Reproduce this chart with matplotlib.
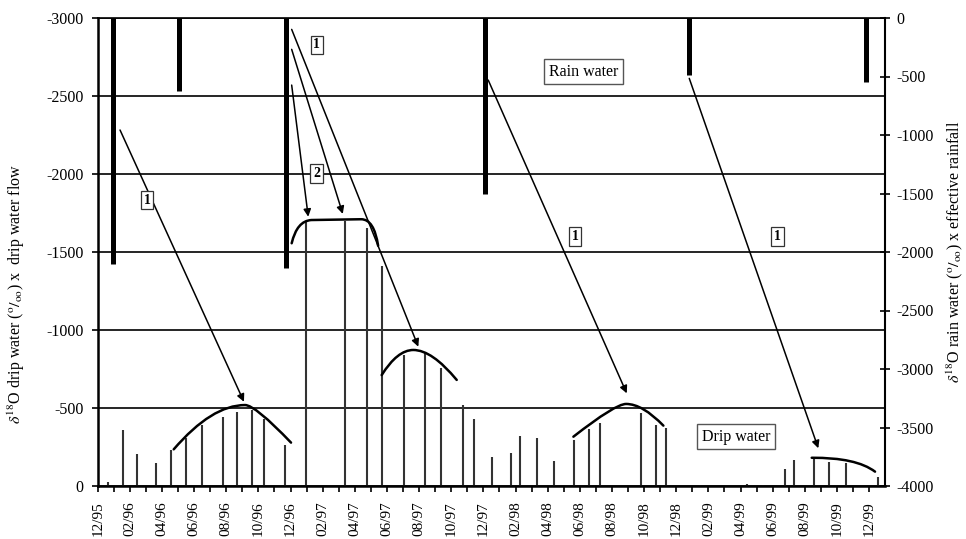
import matplotlib
matplotlib.use('Agg')
import matplotlib.pyplot as plt
from matplotlib.path import Path
from matplotlib.patches import PathPatch

plt.rcParams['font.family'] = ['Liberation Serif', 'DejaVu Serif']
plt.rcParams['mathtext.fontset'] = 'stix'
plt.rcParams['axes.unicode_minus'] = False

# ---- data (x in months after 12/95) ----
month_labels = ['12/95', '02/96', '04/96', '06/96', '08/96', '10/96', '12/96',
                '02/97', '04/97', '06/97', '08/97', '10/97', '12/97',
                '02/98', '04/98', '06/98', '08/98', '10/98', '12/98',
                '02/99', '04/99', '06/99', '08/99', '10/99', '12/99']

drip_month = [0.62, 1.56, 2.47, 3.63, 4.54, 5.47, 6.51, 7.78, 8.65, 9.58, 10.35,
              11.66, 12.96, 15.39, 16.78, 17.67, 19.06, 20.37, 21.34, 22.71, 23.43,
              24.52, 25.70, 26.28, 27.32, 28.40, 29.66, 30.57, 31.26, 33.79, 34.74,
              35.37, 37.5, 40.4, 41.4, 42.77, 43.35, 44.57, 45.53, 46.55, 48.54]
drip_value = [-25, -360, -205, -145, -230, -310, -390, -440, -475, -490, -430,
              -265, -1690, -1700, -1655, -1410, -840, -850, -755, -520, -428,
              -184, -214, -320, -305, -162, -295, -363, -406, -466, -391,
              -370, -8, -10, -8, -107, -167, -178, -156, -145, -60]

rain_month = [0.96, 5.07, 11.72, 24.1, 36.8, 47.8]
rain_value = [-2100, -625, -2140, -1500, -490, -550]

# hand-drawn envelope curves (Bezier control points, left-axis units)
curve1 = [(4.73, -235), (7.1, -519), (9.17, -519), (9.8, -519), (12.03, -278)]
curve3 = [(17.67, -711), (18.65, -872), (19.64, -872), (20.8, -872), (22.34, -680)]
curve4 = [(29.6, -316), (32.2, -526), (32.88, -526), (33.9, -526), (35.2, -387)]
curve5 = [(44.43, -181), (47.2, -183), (48.37, -92)]
curve2 = [(12.07, -1556), (12.4, -1700), (13.3, -1705), (16.4, -1710),
          (17.2, -1710), (17.45, -1540)]

arrows = [(1.39, -2282, 9.1, -540),
          (12.07, -2570, 13.1, -1726),
          (12.07, -2799, 15.25, -1744),
          (12.07, -2927, 19.95, -893),
          (24.3, -2602, 32.92, -594),
          (36.81, -2613, 44.84, -242)]

boxes = [('1', 3.07, -1833), ('1', 13.63, -2827), ('2', 13.63, -2004),
         ('1', 29.7, -1598), ('1', 42.3, -1598)]
label_boxes = [('Rain water', 30.22, -2656), ('Drip water', 39.72, -316)]

left_ticks = [-3000, -2500, -2000, -1500, -1000, -500, 0]
right_ticks = [0, -500, -1000, -1500, -2000, -2500, -3000, -3500, -4000]

# ---- figure ----
fig = plt.figure(figsize=(9.66, 5.39), dpi=100)
ax = fig.add_axes([97.7 / 966, 1 - 486 / 539, (885 - 97.7) / 966, (486 - 18) / 539])
ax2 = ax.twinx()
ax.set_zorder(ax2.get_zorder() + 1)
ax.patch.set_visible(False)

ax.set_xlim(0, 48.99)
ax.set_ylim(0, -3000)
ax2.set_ylim(-4000, 0)

# gridlines
for t in left_ticks:
    ax.axhline(t, color='black', lw=1.2, zorder=1)

# drip water bars
ax.vlines(drip_month, 0, drip_value, color='#333333', lw=1.5, zorder=2)
# rain water bars
ax2.vlines(rain_month, 0, rain_value, color='black', lw=3.6, zorder=2)

def bez(pts, codes):
    return PathPatch(Path(pts, codes), fill=False, lw=1.8, ec='black', zorder=4,
                     capstyle='round')

C3 = Path.CURVE3
for c in (curve1, curve3, curve4):
    ax.add_patch(bez(c, [Path.MOVETO, C3, C3, C3, C3]))
ax.add_patch(bez(curve5, [Path.MOVETO, C3, C3]))
ax.add_patch(bez(curve2, [Path.MOVETO, C3, C3, Path.LINETO, C3, C3]))

for x0, y0, x1, y1 in arrows:
    ax.annotate('', xy=(x1, y1), xytext=(x0, y0),
                arrowprops=dict(arrowstyle='-|>', lw=1.1, color='black',
                                mutation_scale=11, shrinkA=0, shrinkB=0),
                zorder=5)

for t, x, y in boxes:
    ax.text(x, y, t, ha='center', va='center', fontsize=10, fontweight='bold',
            zorder=6,
            bbox=dict(boxstyle='square,pad=0.2', fc='white', ec='#333333', lw=0.9))
for t, x, y in label_boxes:
    ax.text(x, y, t, ha='center', va='center', fontsize=11.5, zorder=6,
            bbox=dict(boxstyle='square,pad=0.3', fc='white', ec='#555555', lw=1.0))

# x axis
ax.set_xticks(range(0, 49, 2))
ax.set_xticklabels(month_labels, rotation=90, fontsize=11)
ax.set_xticks(range(1, 49, 2), minor=True)
ax.tick_params(axis='x', which='both', direction='out', length=4, width=1.2, pad=7)

# y axes
ax.set_yticks(left_ticks)
ax.set_yticklabels([str(t) for t in left_ticks], fontsize=11.5)
ax.tick_params(axis='y', direction='out', length=4, width=1.2, pad=6)
ax2.set_yticks(right_ticks)
ax2.set_yticklabels([str(t) for t in right_ticks], fontsize=11.5)
ax2.tick_params(axis='y', direction='inout', length=7, width=1.2, pad=5)

for s in ('left', 'bottom'):
    ax.spines[s].set_linewidth(1.8)
ax.spines['top'].set_linewidth(1.2)
ax2.spines['right'].set_linewidth(1.5)
ax.spines['right'].set_visible(False)
ax2.spines['left'].set_visible(False)
ax2.spines['top'].set_visible(False)
ax2.spines['bottom'].set_visible(False)

fig.text(16 / 966, 1 - 294 / 539,
         r'$\delta^{18}$O drip water ($^{\rm o}/_{\rm oo}$) x  drip water flow',
         rotation=90, ha='center', va='center', fontsize=11.5)
fig.text(955 / 966, 1 - 252 / 539,
         r'$\delta^{18}$O rain water ($^{\rm o}/_{\rm oo}$) x effective rainfall',
         rotation=90, ha='center', va='center', fontsize=11.5)

fig.savefig('out.png', dpi=100, facecolor='white')
